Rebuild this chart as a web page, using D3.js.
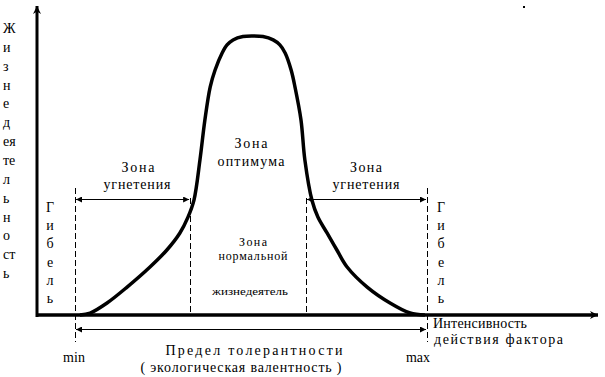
<!DOCTYPE html>
<html>
<head>
<meta charset="utf-8">
<script src="https://cdn.jsdelivr.net/npm/d3@7"></script>
<style>
  body { margin: 0; background: #fff; }
  svg text { font-family: "Liberation Serif", "Tinos", "Times New Roman", serif !important; }
</style>
</head>
<body>
<div id="chart"></div>
<script>
// curve of vital activity (intensity 0..100 = min..max, activity 0..100 = peak)
const curveX = [1.4, 4.3, 9.1, 14.8, 21.3, 26.1, 29.8, 32.1, 33.8, 35.5, 36.9, 38.4, 39.8, 41.8, 43.2, 44.9, 47.7, 50.6,
                53.4, 56.3, 58.2, 59.7, 61.4, 62.5, 64.2, 65.3, 67.3, 69.0, 71.6, 74.4, 77.3, 83.0, 89.5, 95.2, 99.4]
const curveY = [0, 0.7, 4.3, 10.0, 17.2, 23.3, 29.4, 35.1, 41.2, 55.6, 69.9, 81.7, 87.8, 93.9, 96.8, 98.6, 99.8, 100,
                99.8, 98.6, 96.8, 93.9, 87.8, 81.7, 69.9, 55.6, 41.2, 35.1, 29.4, 23.3, 17.2, 10.0, 4.3, 0.7, 0]

// zone borders: min, optimum start, optimum end, max
const borders = [0, 32.7, 65.6, 100]
const borderNames = ['min', '', '', 'max']

const yLetters = ['Ж', 'и', 'з', 'н', 'е', 'д', 'ея', 'те', 'л', 'ь', 'н', 'о', 'ст', 'ь']
const deathLetters = ['Г', 'и', 'б', 'е', 'л', 'ь']

const width = 605
const height = 377
const font = '"Liberation Serif"'

const svg = d3.select('#chart')
    .append('svg')
    .attr('width', width)
    .attr('height', height)
    .attr('font-family', 'Liberation Serif')

// scales
const xScale = d3.scaleLinear()
    .domain([0, 100])
    .range([75, 427])

const yScale = d3.scaleLinear()
    .domain([0, 100])
    .range([315, 36])

const origin = { x: 37, y: 315 }

// arrow heads
const defs = svg.append('defs')
defs.append('marker')
    .attr('id', 'head')
    .attr('viewBox', '0 0 10 10')
    .attr('refX', 10).attr('refY', 5)
    .attr('markerWidth', 8).attr('markerHeight', 6)
    .attr('markerUnits', 'userSpaceOnUse')
    .attr('orient', 'auto-start-reverse')
    .append('path').attr('d', 'M0,0 L10,5 L0,10 Z')
defs.append('marker')
    .attr('id', 'bighead')
    .attr('viewBox', '0 0 10 10')
    .attr('refX', 10).attr('refY', 5)
    .attr('markerWidth', 12).attr('markerHeight', 8)
    .attr('markerUnits', 'userSpaceOnUse')
    .attr('orient', 'auto')
    .append('path').attr('d', 'M0,0 L10,5 L0,10 L3,5 Z')

// axes
svg.append('line')
    .attr('x1', origin.x).attr('y1', origin.y + 2)
    .attr('x2', origin.x).attr('y2', 6)
    .attr('stroke', '#000').attr('stroke-width', 3)
    .attr('marker-end', 'url(#bighead)')
svg.append('line')
    .attr('x1', origin.x).attr('y1', origin.y)
    .attr('x2', 598).attr('y2', origin.y)
    .attr('stroke', '#000').attr('stroke-width', 3.5)
    .attr('marker-end', 'url(#bighead)')

// dashed zone borders
svg.selectAll('.border')
    .data(borders)
    .join('line')
    .attr('class', 'border')
    .attr('x1', d => Math.round(xScale(d)) + 0.5)
    .attr('x2', d => Math.round(xScale(d)) + 0.5)
    .attr('y1', (d, i) => (i == 0 || i == 3) ? 188 : 198)
    .attr('y2', (d, i) => (i == 0 || i == 3) ? 342 : 315)
    .attr('stroke', '#000')
    .attr('stroke-width', 1)
    .attr('stroke-dasharray', '6,3')

// zone arrows
const zoneArrows = [[borders[0], borders[1]], [borders[2], borders[3]]]
svg.selectAll('.zarrow')
    .data(zoneArrows)
    .join('line')
    .attr('class', 'zarrow')
    .attr('x1', d => xScale(d[0]) + 1).attr('x2', d => xScale(d[1]) - 1)
    .attr('y1', 199.5).attr('y2', 199.5)
    .attr('stroke', '#000').attr('stroke-width', 1)
    .attr('marker-start', 'url(#head)')
    .attr('marker-end', 'url(#head)')

// tolerance arrow
svg.append('line')
    .attr('x1', xScale(0) + 1).attr('x2', xScale(100) - 1)
    .attr('y1', 329.5).attr('y2', 329.5)
    .attr('stroke', '#000').attr('stroke-width', 1)
    .attr('marker-start', 'url(#head)')
    .attr('marker-end', 'url(#head)')

// curve
const line = d3.line()
    .x(d => xScale(d[0]))
    .y(d => yScale(d[1]))
    .curve(d3.curveCatmullRom.alpha(0.5))

svg.append('path')
    .datum(curveX.map((x, i) => [x, curveY[i]]))
    .attr('d', line)
    .attr('fill', 'none')
    .attr('stroke', '#000')
    .attr('stroke-width', 3.5)

// labels
function label(txt, x, y, size, len, anchor) {
    const t = svg.append('text')
        .attr('x', x).attr('y', y)
        .attr('font-size', size)
        .style('font-family', font)
        .attr('text-anchor', anchor || 'middle')
        .text(txt)
    if (len) t.attr('textLength', len).attr('lengthAdjust', 'spacing')
    return t
}

label('Зона', 138, 172, 14, 33)
label('угнетения', 137, 189, 14, 67)
label('Зона', 251, 148, 14, 33)
label('оптимума', 251, 166, 14, 67)
label('Зона', 366, 172, 14, 32)
label('угнетения', 366, 189, 14, 67)

label('Зона', 253, 246, 12, 28)
label('нормальной', 253, 260, 12, 69)
label('жизнедеятель', 250, 295, 11, 76).attr('lengthAdjust', 'spacingAndGlyphs')

label('Интенсивность', 433, 328, 14, 94, 'start')
label('действия  фактора', 434, 344, 14, 129, 'start')

label('Предел толерантности', 254, 355, 14, 177)
label('( экологическая валентность )', 241, 372, 14, 201)

svg.selectAll('.bname')
    .data(borders.filter((d, i) => borderNames[i]))
    .join('text')
    .attr('class', 'bname')
    .attr('x', (d, i) => xScale(d) + (i == 0 ? -1 : -9))
    .attr('y', 362)
    .attr('font-size', 14)
    .style('font-family', font)
    .attr('text-anchor', 'middle')
    .text((d, i) => borderNames.filter(n => n)[i])

// vertical y label
svg.selectAll('.ylet')
    .data(yLetters)
    .join('text')
    .attr('class', 'ylet')
    .attr('x', 3)
    .attr('y', (d, i) => 33 + i * 18.85)
    .attr('font-size', 14)
    .style('font-family', font)
    .text(d => d)

// death zones
const deathX = [50, 441]
deathX.forEach(cx => {
    svg.selectAll(null)
        .data(deathLetters)
        .join('text')
        .attr('x', cx)
        .attr('y', (d, i) => 212 + i * 18.2)
        .attr('font-size', 14)
        .style('font-family', font)
        .attr('text-anchor', 'middle')
        .text(d => d)
})

// stray dot in the top right
svg.append('rect')
    .attr('x', 523).attr('y', 6).attr('width', 2).attr('height', 2)
    .attr('fill', '#000')
</script>
</body>
</html>
